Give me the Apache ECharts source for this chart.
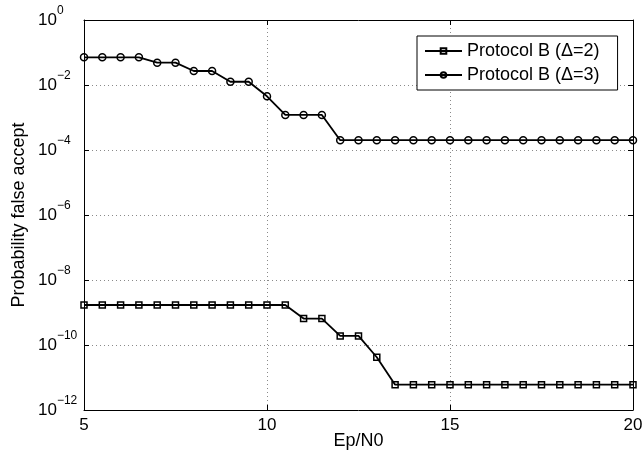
<!DOCTYPE html>
<html>
<head>
<meta charset="utf-8">
<script src="https://cdn.jsdelivr.net/npm/echarts@6/dist/echarts.min.js"></script>
<style>html,body{margin:0;padding:0;background:#fff}#c{width:642px;height:451px}</style>
</head>
<body>
<div id="c"></div>
<script>
// Data
var xValues = [5, 5.5, 6, 6.5, 7, 7.5, 8, 8.5, 9, 9.5, 10, 10.5, 11, 11.5, 12, 12.5, 13, 13.5, 14, 14.5, 15, 15.5, 16, 16.5, 17, 17.5, 18, 18.5, 19, 19.5, 20];
var delta2 = [1.7e-9, 1.7e-9, 1.7e-9, 1.7e-9, 1.7e-9, 1.7e-9, 1.7e-9, 1.7e-9, 1.7e-9, 1.7e-9, 1.7e-9, 1.7e-9,
              6.5e-10, 6.5e-10, 1.9e-10, 1.9e-10, 4.2e-11,
              6e-12, 6e-12, 6e-12, 6e-12, 6e-12, 6e-12, 6e-12, 6e-12, 6e-12, 6e-12, 6e-12, 6e-12, 6e-12, 6e-12];
var delta3 = [0.071, 0.071, 0.071, 0.071, 0.0486, 0.0486, 0.027, 0.027, 0.0126, 0.0126, 0.0045, 0.0012, 0.0012, 0.0012,
              2.0e-4, 2.0e-4, 2.0e-4, 2.0e-4, 2.0e-4, 2.0e-4, 2.0e-4, 2.0e-4, 2.0e-4, 2.0e-4, 2.0e-4, 2.0e-4, 2.0e-4, 2.0e-4, 2.0e-4, 2.0e-4, 2.0e-4];
var seriesNames = ['Protocol B (\u0394=2)', 'Protocol B (\u0394=3)'];
var xTicks = [5, 10, 15, 20];
var yMin = 1e-12, yMax = 1;
var xTitle = 'Ep/N0', yTitle = 'Probability false accept';

var FONT = '"Liberation Sans", Arial, Helvetica, sans-serif';
function pairs(ys) { return xValues.map(function (x, i) { return [x, ys[i]]; }); }

var chart = echarts.init(document.getElementById('c'), null, {renderer: 'canvas'});
var grid = {left: 84, right: 9, top: 20, bottom: 41, containLabel: false, outerBoundsMode: 'none'};
var gridLine = {show: true, lineStyle: {color: '#8a8a8a', type: [1, 3], width: 1}};
var option = {
  backgroundColor: '#fff',
  animation: false,
  grid: grid,
  legend: {
    orient: 'vertical', left: 417, top: 36,
    data: seriesNames,
    backgroundColor: '#fff', borderColor: '#000', borderWidth: 1,
    padding: [6, 18, 6, 7], itemGap: 6, itemWidth: 37, itemHeight: 7,
    textStyle: {fontFamily: FONT, fontSize: 18, color: '#000', lineHeight: 18}
  },
  xAxis: [{
    type: 'value', min: 5, max: 20, interval: 5,
    name: xTitle, nameLocation: 'middle', nameGap: 22, nameMoveOverlap: false,
    nameTextStyle: {fontFamily: FONT, fontSize: 18, color: '#000'},
    axisLine: {show: true, onZero: false, lineStyle: {color: '#000', width: 1}},
    axisTick: {show: true, inside: true, length: 5, lineStyle: {color: '#000'}},
    axisLabel: {fontFamily: FONT, fontSize: 17, color: '#000', margin: 7,
      formatter: function (v) { return xTicks.indexOf(v) >= 0 ? String(v) : ''; }},
    splitLine: gridLine
  }, {
    type: 'value', min: 5, max: 20, interval: 5, position: 'top',
    axisLine: {show: true, onZero: false, lineStyle: {color: '#000', width: 1}},
    axisTick: {show: true, inside: true, length: 5, lineStyle: {color: '#000'}},
    axisLabel: {show: false}, splitLine: {show: false}
  }],
  yAxis: [{
    type: 'log', logBase: 100, min: yMin, max: yMax, splitNumber: 6,
    name: yTitle, nameLocation: 'middle', nameGap: 56, nameRotate: 90, nameMoveOverlap: false,
    nameTextStyle: {fontFamily: FONT, fontSize: 18, color: '#000'},
    axisLine: {show: true, onZero: false, lineStyle: {color: '#000', width: 1}},
    axisTick: {show: true, inside: true, length: 5, lineStyle: {color: '#000'}},
    minorTick: {show: false},
    axisLabel: {
      align: 'left', margin: 46, color: '#000',
      formatter: function (v) {
        var e = Math.round(Math.log10(v));
        return '{b|10}{s|' + (e < 0 ? '\u2212' + (-e) : e) + '}';
      },
      rich: {
        b: {fontFamily: FONT, fontSize: 17, color: '#000', lineHeight: 30},
        s: {fontFamily: FONT, fontSize: 12, color: '#000', lineHeight: 14, verticalAlign: 'top'}
      }
    },
    splitLine: gridLine
  }, {
    type: 'log', logBase: 100, min: yMin, max: yMax, splitNumber: 6, position: 'right',
    axisLine: {show: true, onZero: false, lineStyle: {color: '#000', width: 1}},
    axisTick: {show: true, inside: true, length: 5, lineStyle: {color: '#000'}},
    axisLabel: {show: false}, splitLine: {show: false}
  }],
  series: [{
    name: seriesNames[0], type: 'line', data: pairs(delta2),
    symbol: 'rect', symbolSize: 6, showAllSymbol: true,
    lineStyle: {color: '#000', width: 1.8},
    itemStyle: {color: 'rgba(255,255,255,0)', borderColor: '#000', borderWidth: 1.5}
  }, {
    name: seriesNames[1], type: 'line', data: pairs(delta3),
    symbol: 'circle', symbolSize: 7, showAllSymbol: true,
    lineStyle: {color: '#000', width: 1.8},
    itemStyle: {color: 'rgba(255,255,255,0)', borderColor: '#000', borderWidth: 1.5}
  }]
};
chart.setOption(option);
</script>
</body>
</html>
